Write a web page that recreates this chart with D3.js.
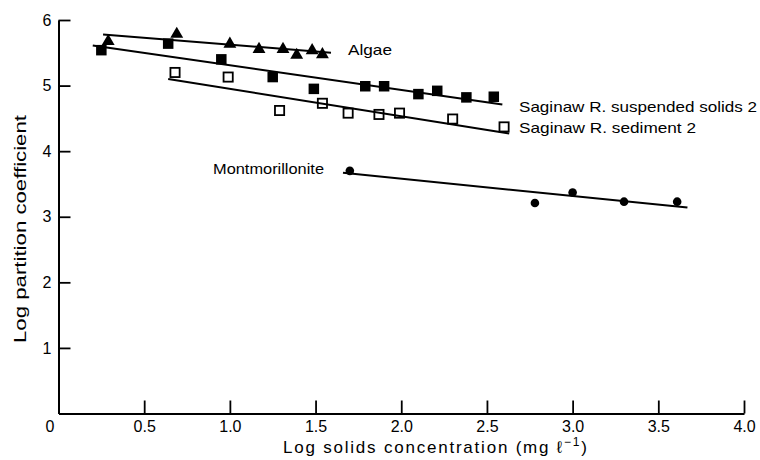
<!DOCTYPE html>
<html>
<head>
<meta charset="utf-8">
<script src="https://cdn.jsdelivr.net/npm/d3@7"></script>
<style>
  html, body { margin: 0; padding: 0; background: #fff; }
  svg { display: block; font-family: "Liberation Sans", Arial, sans-serif; }
</style>
</head>
<body>
<svg id="chart" width="760" height="460"></svg>
<script>
// ---- data ----
const xTickValues = [0, 0.5, 1.0, 1.5, 2.0, 2.5, 3.0, 3.5, 4.0];
const xTickLabels = ["0", "0.5", "1.0", "1.5", "2.0", "2.5", "3.0", "3.5", "4.0"];
const yTickValues = [1, 2, 3, 4, 5, 6];
const yTickLabels = ["1", "2", "3", "4", "5", "6"];

const algaeX = [0.29, 0.69, 1.00, 1.17, 1.31, 1.39, 1.48, 1.54];
const algaeY = [5.69, 5.80, 5.65, 5.57, 5.57, 5.48, 5.55, 5.49];
const algaeFit = [[0.26, 5.78], [1.59, 5.50]];

const suspX = [0.25, 0.64, 0.95, 1.25, 1.49, 1.79, 1.90, 2.10, 2.21, 2.38, 2.54];
const suspY = [5.54, 5.64, 5.40, 5.13, 4.95, 4.99, 4.99, 4.87, 4.92, 4.82, 4.83];
const suspFit = [[0.20, 5.61], [2.59, 4.71]];

const sedX = [0.68, 0.99, 1.29, 1.54, 1.69, 1.87, 1.99, 2.30, 2.60];
const sedY = [5.20, 5.13, 4.62, 4.73, 4.58, 4.56, 4.58, 4.49, 4.37];
const sedFit = [[0.64, 5.10], [2.63, 4.27]];

const montX = [1.70, 2.78, 3.00, 3.30, 3.61];
const montY = [3.70, 3.21, 3.37, 3.23, 3.23];
const montFit = [[1.66, 3.67], [3.67, 3.14]];

const seriesLabels = ["Algae", "Saginaw R. suspended solids 2", "Saginaw R. sediment 2", "Montmorillonite"];
const xTitle = "Log solids concentration  (mg ℓ";
const xTitleSup = "−1";
const yTitle = "Log partition coefficient";

// ---- layout ----
const svg = d3.select("#chart");
const x = d3.scaleLinear().domain([0, 4]).range([58.5, 744]);
const y = d3.scaleLinear().domain([0, 6]).range([413.5, 20]);

// axes
const xAxis = d3.axisBottom(x)
  .tickValues(xTickValues)
  .tickFormat((d, i) => xTickLabels[i])
  .tickSizeInner(-13).tickSizeOuter(0).tickPadding(7);
const gx = svg.append("g").attr("transform", `translate(0,${y(0)})`).call(xAxis);

const yAxis = d3.axisLeft(y)
  .tickValues(yTickValues)
  .tickFormat((d, i) => yTickLabels[i])
  .tickSizeInner(-12).tickSizeOuter(0).tickPadding(7);
const gy = svg.append("g").attr("transform", `translate(${x(0)},0)`).call(yAxis);

[gx, gy].forEach(g => {
  g.select(".domain").attr("stroke", "#000").attr("stroke-width", 2);
  g.selectAll(".tick line").attr("stroke", "#000").attr("stroke-width", 1.8);
  g.selectAll(".tick text").attr("fill", "#000").attr("font-size", 16)
    .attr("font-family", "'Liberation Sans', Arial, sans-serif");
});
gx.selectAll(".tick").filter(d => d === 0).select("text").attr("dx", -9);
gx.selectAll(".tick").filter(d => d === 0).select("line").remove();

// axis titles
svg.append("text")
  .attr("x", 283).attr("y", 453)
  .attr("font-size", 17).attr("fill", "#000")
  .attr("textLength", 304).attr("lengthAdjust", "spacing")
  .call(t => {
    t.append("tspan").text(xTitle);
    t.append("tspan").attr("dy", -7).attr("font-size", 12).text(xTitleSup);
    t.append("tspan").attr("dy", 7).text(")");
  });

svg.append("text")
  .attr("transform", `translate(26,229) rotate(-90)`)
  .attr("text-anchor", "middle")
  .attr("font-size", 17).attr("fill", "#000")
  .attr("textLength", 228).attr("lengthAdjust", "spacingAndGlyphs")
  .text(yTitle);

// fit lines
const line = d3.line().x(d => x(d[0])).y(d => y(d[1]));
[algaeFit, suspFit, sedFit, montFit].forEach(f => {
  svg.append("path").attr("d", line(f))
    .attr("fill", "none").attr("stroke", "#000").attr("stroke-width", 2);
});

// markers
const zip = (xs, ys) => xs.map((v, i) => [v, ys[i]]);

svg.append("g").selectAll("path").data(zip(algaeX, algaeY)).join("path")
  .attr("transform", d => `translate(${x(d[0])},${y(d[1]) + 1})`)
  .attr("d", d3.symbol(d3.symbolTriangle, 72))
  .attr("fill", "#000");

svg.append("g").selectAll("rect").data(zip(suspX, suspY)).join("rect")
  .attr("x", d => x(d[0]) - 5.25).attr("y", d => y(d[1]) - 5.25)
  .attr("width", 10.5).attr("height", 10.5)
  .attr("fill", "#000");

svg.append("g").selectAll("rect").data(zip(sedX, sedY)).join("rect")
  .attr("x", d => x(d[0]) - 4.6).attr("y", d => y(d[1]) - 4.6)
  .attr("width", 9.2).attr("height", 9.2)
  .attr("fill", "none").attr("stroke", "#000").attr("stroke-width", 1.8);

svg.append("g").selectAll("circle").data(zip(montX, montY)).join("circle")
  .attr("cx", d => x(d[0])).attr("cy", d => y(d[1]))
  .attr("r", 4.3).attr("fill", "#000");

// series labels
const labelPos = [[348, 55, 44], [519, 112, 238], [519, 133, 177], [213, 174, 111]];
seriesLabels.forEach((s, i) => {
  svg.append("text")
    .attr("x", labelPos[i][0]).attr("y", labelPos[i][1])
    .attr("font-size", 15).attr("fill", "#000")
    .attr("textLength", labelPos[i][2]).attr("lengthAdjust", "spacingAndGlyphs")
    .text(s);
});
</script>
</body>
</html>
